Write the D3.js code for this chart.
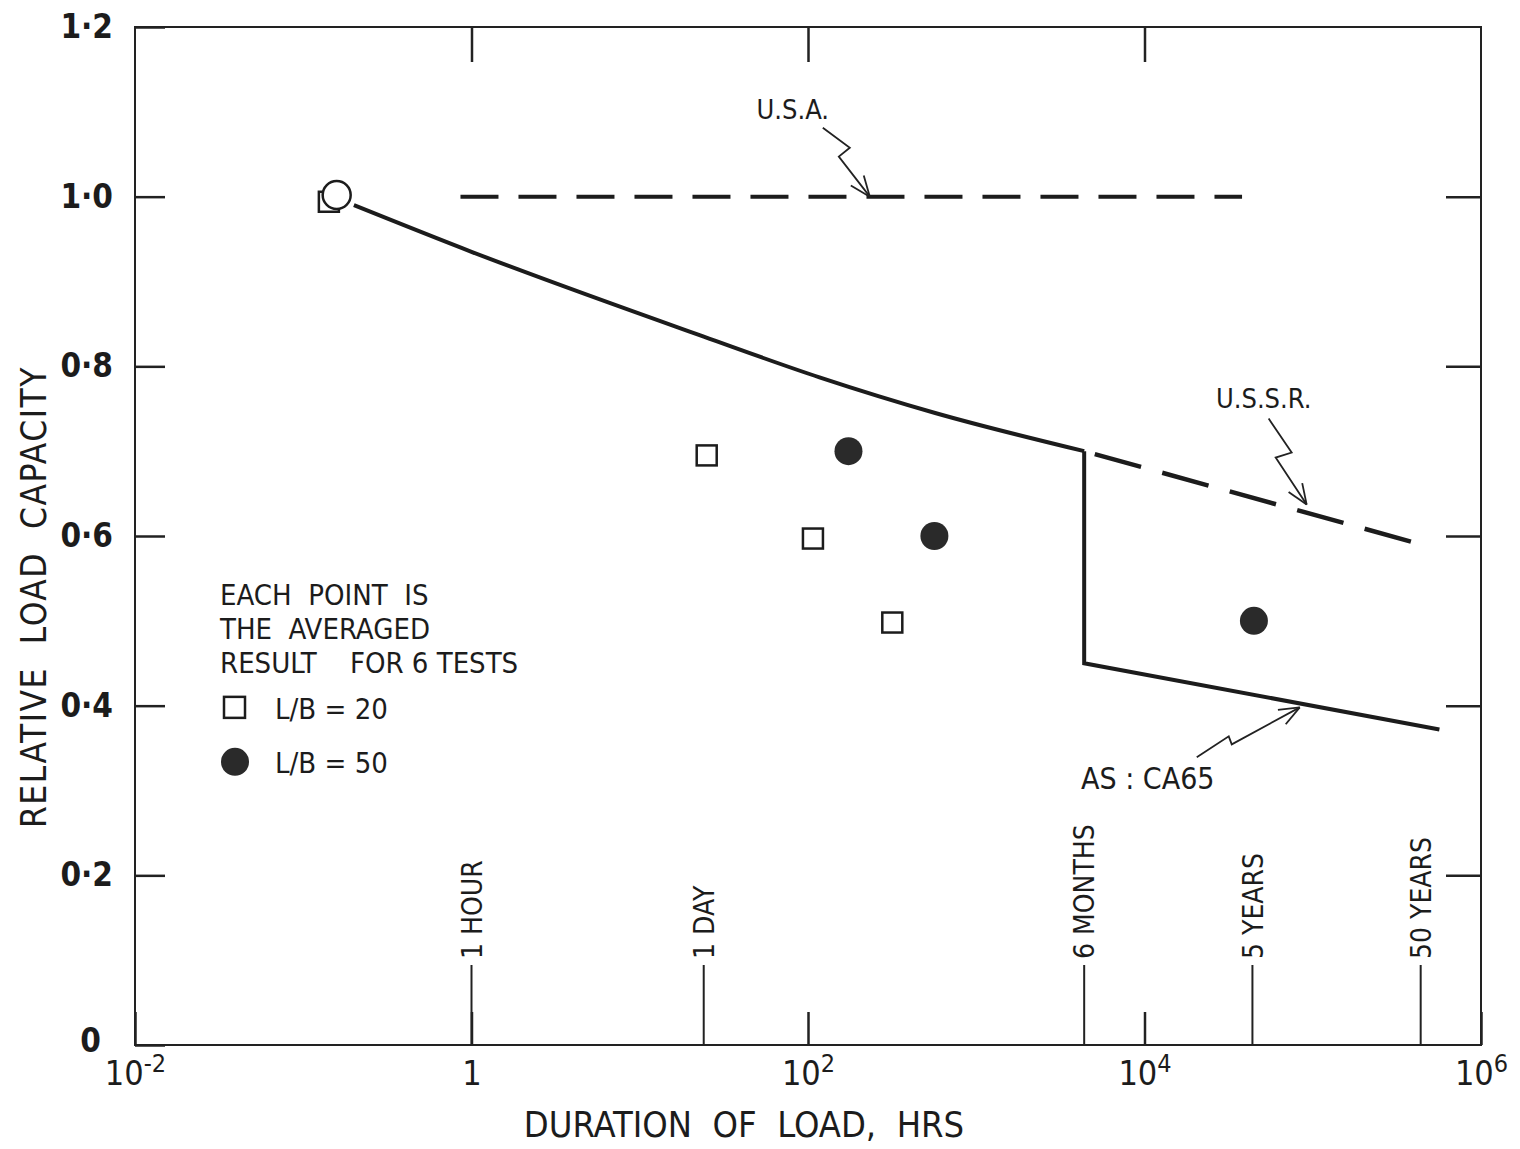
<!DOCTYPE html>
<html>
<head>
<meta charset="utf-8">
<script src="https://cdn.jsdelivr.net/npm/d3@7"></script>
<style>
body { margin: 0; background: #fff; }
text { font-family: "Liberation Sans Narrow", "DejaVu Sans Condensed", "Liberation Sans", sans-serif; fill: #1c1c1c; white-space: pre; }
</style>
</head>
<body>
<script>
// durations in hours, capacity relative to short term strength
var lb20Hours = [0.142, 25, 107, 317];
var lb20Capacity = [0.994, 0.695, 0.597, 0.498];
var lb50Hours = [174, 564, 44700];
var lb50Capacity = [0.70, 0.60, 0.50];
var refHours = [0.158];
var refCapacity = [1.002];

var asCurveHours = [0.2, 1, 24, 117, 570, 4380];
var asCurveCapacity = [0.99, 0.935, 0.835, 0.787, 0.745, 0.70];
var asStepHours = [4380, 4380, 566000];
var asStepCapacity = [0.70, 0.45, 0.372];
var ussrHours = [4380, 390000];
var ussrCapacity = [0.70, 0.593];
var usaHours = [0.86, 38000];
var usaCapacity = [1.0, 1.0];

var durationNames = ["1 HOUR", "1 DAY", "6 MONTHS", "5 YEARS", "50 YEARS"];
var durationHours = [1, 24, 4380, 43800, 438000];

var xTicks = [1e-2, 1, 1e2, 1e4, 1e6];
var xExponents = ["-2", "", "2", "4", "6"];
var yTicks = [0, 0.2, 0.4, 0.6, 0.8, 1.0, 1.2];

var margin = {top: 27, right: 39, bottom: 104, left: 135};
var width = 1520 - margin.left - margin.right;
var height = 1149 - margin.top - margin.bottom;

var svg = d3.select("body").append("svg")
        .attr("width", width + margin.left + margin.right)
        .attr("height", height + margin.top + margin.bottom)
    .append("g")
    .attr("transform", "translate(" + margin.left + "," + margin.top + ")");

var x = d3.scaleLog().domain([1e-2, 1e6]).range([0, width]);
var y = d3.scaleLinear().domain([0, 1.2]).range([height, 0]);

// frame
svg.append("rect")
    .attr("width", width).attr("height", height)
    .attr("fill", "none").attr("stroke", "#222").attr("stroke-width", 2);

// bottom axis: inward ticks + power labels
var xAxis = svg.append("g")
    .attr("transform", "translate(0," + height + ")")
    .call(d3.axisBottom(x).tickValues(xTicks).tickSizeInner(-33).tickSizeOuter(0).tickPadding(16));
xAxis.selectAll("text").each(function (d, i) {
    var t = d3.select(this).text("").attr("font-size", 34);
    if (d === 1) { t.text("1"); return; }
    t.append("tspan").text("10");
    t.append("tspan").attr("dy", -13).attr("font-size", 25).text(xExponents[i]);
});

var yAxis = svg.append("g")
    .call(d3.axisLeft(y).tickValues(yTicks).tickSizeInner(-30).tickSizeOuter(0).tickPadding(22)
        .tickFormat(d => d === 0 ? "0" : d3.format(".1f")(d).replace(".", "\u00b7")));
yAxis.selectAll("text").attr("font-size", 33).attr("font-weight", "bold");
yAxis.selectAll("text").filter(d => d === 0).attr("dx", -12).attr("dy", "0.2em");

svg.append("g")
    .call(d3.axisTop(x).tickValues([1, 1e2, 1e4]).tickSize(-35).tickFormat(""));
svg.append("g")
    .attr("transform", "translate(" + width + ",0)")
    .call(d3.axisRight(y).tickValues([0.2, 0.4, 0.6, 0.8, 1.0]).tickSize(-35).tickFormat(""));

svg.selectAll(".domain").remove();
svg.selectAll(".tick line").attr("stroke", "#222").attr("stroke-width", 2.5);

// axis titles
svg.append("text")
    .attr("x", 609).attr("y", height + 92)
    .attr("text-anchor", "middle").attr("font-size", 36)
    .text("DURATION  OF  LOAD,  HRS");
svg.append("text")
    .attr("transform", "translate(-89," + (y(0.6) + 61) + ") rotate(-90)")
    .attr("text-anchor", "middle").attr("font-size", 35).attr("letter-spacing", 1.5)
    .text("RELATIVE  LOAD  CAPACITY");

// duration markers
var marks = svg.selectAll(".dur")
    .data(d3.zip(durationNames, durationHours))
    .enter().append("g")
    .attr("transform", d => "translate(" + x(d[1]) + ",0)");
marks.append("line")
    .attr("y1", height).attr("y2", height - 80)
    .attr("stroke", "#222").attr("stroke-width", 2);
marks.append("text")
    .attr("transform", "translate(0," + (height - 86) + ") rotate(-90)")
    .attr("dy", "0.36em").attr("font-size", 28)
    .text(d => d[0]);

// curves
var line = d3.line().x(d => x(d[0])).y(d => y(d[1]));
svg.append("path")
    .datum(d3.zip(asCurveHours, asCurveCapacity))
    .attr("d", line.curve(d3.curveMonotoneX))
    .attr("fill", "none").attr("stroke", "#1c1c1c").attr("stroke-width", 4);
svg.append("path")
    .datum(d3.zip(asStepHours, asStepCapacity))
    .attr("d", line.curve(d3.curveLinear))
    .attr("fill", "none").attr("stroke", "#1c1c1c").attr("stroke-width", 4);
svg.append("path")
    .datum(d3.zip(ussrHours, ussrCapacity))
    .attr("d", line)
    .attr("fill", "none").attr("stroke", "#1c1c1c").attr("stroke-width", 4.5)
    .attr("stroke-dasharray", "48,22").attr("stroke-dashoffset", 59);
svg.append("path")
    .datum(d3.zip(usaHours, usaCapacity))
    .attr("d", line)
    .attr("fill", "none").attr("stroke", "#1c1c1c").attr("stroke-width", 4)
    .attr("stroke-dasharray", "38,20");

// data points
svg.selectAll(".sq")
    .data(d3.zip(lb20Hours, lb20Capacity))
    .enter().append("rect")
    .attr("x", d => x(d[0]) - 10).attr("y", d => y(d[1]) - 10)
    .attr("width", 20).attr("height", 20)
    .attr("fill", "#fff").attr("stroke", "#1c1c1c").attr("stroke-width", 2.5);
svg.selectAll(".ref")
    .data(d3.zip(refHours, refCapacity))
    .enter().append("circle")
    .attr("cx", d => x(d[0])).attr("cy", d => y(d[1])).attr("r", 14)
    .attr("fill", "#fff").attr("stroke", "#1c1c1c").attr("stroke-width", 2.5);
svg.selectAll(".dot")
    .data(d3.zip(lb50Hours, lb50Capacity))
    .enter().append("circle")
    .attr("cx", d => x(d[0])).attr("cy", d => y(d[1])).attr("r", 14)
    .attr("fill", "#2a2a2a");

// legend
var legend = svg.append("g").attr("transform", "translate(85," + (y(0.52) + 1) + ")");
["EACH  POINT  IS", "THE  AVERAGED", "RESULT    FOR 6 TESTS"].forEach(function (s, i) {
    legend.append("text").attr("y", i * 34).attr("font-size", 29).text(s);
});
legend.append("rect").attr("x", 4).attr("y", 92).attr("width", 21).attr("height", 21)
    .attr("fill", "#fff").attr("stroke", "#1c1c1c").attr("stroke-width", 2.5);
legend.append("text").attr("x", 55).attr("y", 114).attr("font-size", 29).text("L/B = 20");
legend.append("circle").attr("cx", 15).attr("cy", 157).attr("r", 14).attr("fill", "#2a2a2a");
legend.append("text").attr("x", 55).attr("y", 168).attr("font-size", 29).text("L/B = 50");

// labelled arrows (zigzag offsets in px from arrow tip)
var noteNames = ["U.S.A.", "U.S.S.R.", "AS : CA65"];
var noteHours = [233, 92000, 83700];
var noteCapacity = [1.0, 0.637, 0.398];
var noteText = [[-77, -78], [-43, -97], [-152, 82]];
var noteZig = [
    [[-47, -69], [-20, -49], [-31, -40], [0, 0]],
    [[-38, -86], [-15, -52], [-31, -47], [0, 0]],
    [[-103, 50], [-71, 29], [-68, 37], [0, 0]]
];
noteNames.forEach(function (name, i) {
    var g = svg.append("g")
        .attr("transform", "translate(" + x(noteHours[i]) + "," + y(noteCapacity[i]) + ")");
    var pts = noteZig[i];
    g.append("path").attr("d", d3.line()(pts))
        .attr("fill", "none").attr("stroke", "#222").attr("stroke-width", 1.8);
    var p = pts[pts.length - 2];
    var a = Math.atan2(-p[1], -p[0]);
    [0.38, -0.38].forEach(function (da) {
        g.append("line").attr("x1", 0).attr("y1", 0)
            .attr("x2", -22 * Math.cos(a + da)).attr("y2", -22 * Math.sin(a + da))
            .attr("stroke", "#222").attr("stroke-width", 1.8);
    });
    g.append("text").attr("x", noteText[i][0]).attr("y", noteText[i][1])
        .attr("text-anchor", "middle").attr("font-size", i === 2 ? 30 : 27)
        .text(name);
});
</script>
</body>
</html>
